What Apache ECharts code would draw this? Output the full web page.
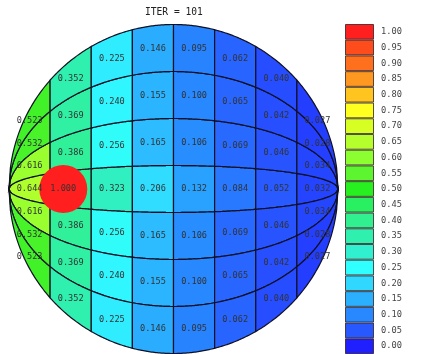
<!DOCTYPE html>
<html><head><meta charset="utf-8">
<script src="https://cdn.jsdelivr.net/npm/echarts@6/dist/echarts.min.js"></script>
<style>html,body{margin:0;padding:0;background:#fff}#c{width:423px;height:354px}</style>
</head><body><div id="c"></div>
<script>
// ---- data ----
const chartTitle = 'ITER = 101';
// eight vertical strips left -> right; rows: equator band, then bands 1..3 (mirrored above/below)
const rowEquator = [0.644, 1.000, 0.323, 0.206, 0.132, 0.084, 0.052, 0.032];
const rowBand1   = [0.616, 0.386, 0.256, 0.165, 0.106, 0.069, 0.046, 0.034];
const rowBand2   = [0.532, 0.369, 0.240, 0.155, 0.100, 0.065, 0.042, 0.028];
const rowBand3   = [0.523, 0.352, 0.225, 0.146, 0.095, 0.062, 0.040, 0.027];
const sourceCol = 1;            // strip holding the source value on the equator
const sourceValue = 1.000;
const sourceX = -0.67, sourceY = 0;   // source location in sphere coords
const sourceCellFill = 0.39;    // colour level seen behind the source disk
const colorbarLabels = ['0.00','0.05','0.10','0.15','0.20','0.25','0.30','0.35','0.40','0.45','0.50',
                        '0.55','0.60','0.65','0.70','0.75','0.80','0.85','0.90','0.95','1.00'];
const colorStops = ['#2020ff','#2858ff','#2888ff','#2ab0ff','#30d8ff','#30ffff','#30f0d0','#30f0b0',
                    '#30f090','#28f060','#28f020','#5cf530','#8cff30','#b4ff2c','#d8ff24','#ffff20',
                    '#ffc420','#ff9820','#ff701e','#ff4c1c','#ff1f1f'];

// ---- build ----
const rows = [rowEquator, rowBand1, rowBand2, rowBand3];
const cells = [], labels = [];
rows.forEach((vals, k) => {
  vals.forEach((v, col) => {
    const isSrc = (k === 0 && col === sourceCol);
    const fill = isSrc ? sourceCellFill : v;
    const rs = k === 0 ? [0] : [k, -k];
    rs.forEach(r => {
      cells.push([col, r, fill]);
      if (!isSrc) labels.push([col, r, v]);
    });
  });
});
const NCOL = 8, NB = 7;
function h(x){ return Math.sqrt(Math.max(0, 1 - x*x)); }
function bounds(r){
  if (r === 0) return [-1/NB, 1/NB];
  const a = (2*Math.abs(r)-1)/NB, b = Math.min(1,(2*Math.abs(r)+1)/NB);
  return r > 0 ? [a, b] : [-b, -a];
}
const FONT = '"DejaVu Sans Mono", monospace';

const chart = echarts.init(document.getElementById('c'), null, {renderer:'canvas'});
chart.setOption({
  animation:false,
  backgroundColor:'#fff',
  title:{text:chartTitle, left:145, top:7, padding:0,
    textStyle:{fontFamily:FONT, fontSize:9.6, fontWeight:'normal', color:'#222'}},
  grid:[
    {left:9, top:24.5, width:329, height:329},
    {left:345, top:24, width:29, height:330}
  ],
  xAxis:[
    {gridIndex:0, type:'value', min:-1, max:1, show:false},
    {gridIndex:1, type:'value', min:0, max:1, show:false}
  ],
  yAxis:[
    {gridIndex:0, type:'value', min:-1, max:1, show:false},
    {gridIndex:1, type:'category', data:colorbarLabels, position:'right',
      axisLine:{show:false}, axisTick:{show:false}, splitLine:{show:false},
      axisLabel:{margin:7, fontFamily:FONT, fontSize:8.7, color:'#444'}}
  ],
  visualMap:{type:'continuous', show:false, min:0, max:1, dimension:2, seriesIndex:[0,1],
    inRange:{color:colorStops}},
  series:[
    {type:'custom', xAxisIndex:0, yAxisIndex:0, data:cells, z:1,
      renderItem:function(params, api){
        const col = api.value(0), r = api.value(1);
        const xL = -1 + col*2/NCOL, xR = xL + 2/NCOL;
        const [lo, hi] = bounds(r);
        const pts = [], N = 30;
        for (let i=0;i<=N;i++){ const x = xL+(xR-xL)*i/N; pts.push(api.coord([x, hi*h(x)])); }
        for (let i=N;i>=0;i--){ const x = xL+(xR-xL)*i/N; pts.push(api.coord([x, lo*h(x)])); }
        return {type:'polygon', shape:{points:pts},
          style:{fill:api.visual('color'), stroke:'#101024', lineWidth:1.2}};
      }},
    {type:'scatter', xAxisIndex:0, yAxisIndex:0, z:2,
      data:[[sourceX, sourceY, sourceValue]], symbol:'circle', symbolSize:48,
      itemStyle:{opacity:1},
      label:{show:true, position:'inside', formatter:function(p){return p.value[2].toFixed(3);},
        fontFamily:FONT, fontSize:8.6, color:'#333'}},
    {type:'custom', xAxisIndex:0, yAxisIndex:0, data:labels, z:3,
      renderItem:function(params, api){
        const col = api.value(0), r = api.value(1), v = api.value(2);
        const xc = -1 + col*2/NCOL + 1/NCOL;
        const [lo, hi] = bounds(r);
        const p = api.coord([xc, (lo+hi)/2*h(xc)]);
        return {type:'text', x:p[0], y:p[1],
          style:{text:v.toFixed(3), fill:'#333', font:'8.6px ' + FONT, align:'center', verticalAlign:'middle'}};
      }},
    {type:'bar', xAxisIndex:1, yAxisIndex:1, barWidth:'100%', barCategoryGap:0, z:1,
      data:colorbarLabels.map((l,i)=>({value:1, itemStyle:{color:colorStops[i]}})),
      itemStyle:{borderColor:'rgba(40,20,20,0.75)', borderWidth:1}}
  ]
});
</script></body></html>
